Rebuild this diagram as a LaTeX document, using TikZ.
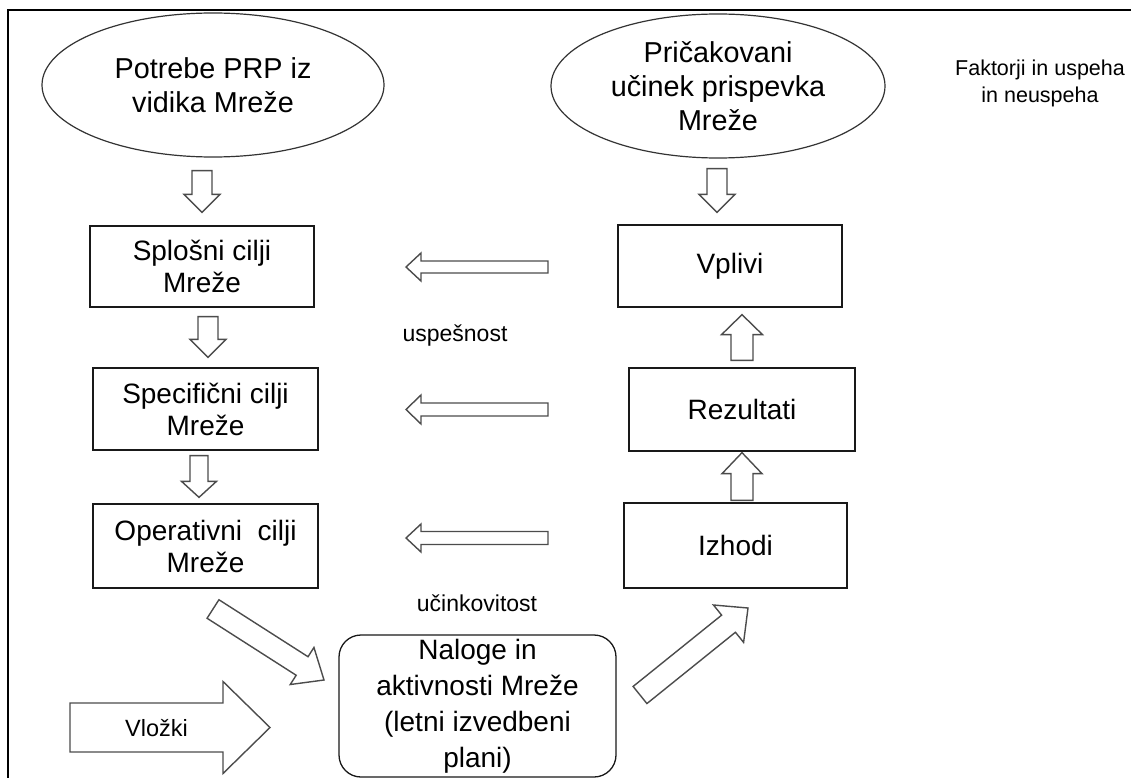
\documentclass[tikz,border=0pt]{standalone}
\usepackage{fontspec}
\setmainfont{Liberation Sans}
\usetikzlibrary{calc,shapes.geometric}
\newcommand{\blockarrow}[5]{%
  \path let \p1=(#1), \p2=(#2), \n1={atan2(\y2-\y1,\x2-\x1)}, \n2={veclen(\x2-\x1,\y2-\y1)} in
    \pgfextra{\xdef\baangle{\n1}\xdef\balen{\n2}};
  \begin{scope}[shift={(#1)}, rotate=\baangle]
    \draw[barrow] (0,-#3) -- ({\balen-#5},-#3) -- ({\balen-#5},-#4) -- ({\balen},0)
      -- ({\balen-#5},#4) -- ({\balen-#5},#3) -- (0,#3) -- cycle;
  \end{scope}}
\tikzset{
  frm/.style={line width=2pt},
  ell/.style={ellipse, draw=black!80, line width=1.2pt, inner sep=0pt, align=center,
    font=\fontsize{28.8}{34}\selectfont},
  bx/.style={rectangle, draw=black!90, line width=1.3pt, inner sep=0pt, align=center,
    font=\fontsize{28}{32}\selectfont},
  barrow/.style={draw=black!70, line width=1.4pt, fill=white, line join=miter},
  lbl/.style={inner sep=0pt, font=\fontsize{23}{27}\selectfont},
}
\begin{document}
\begin{tikzpicture}[x=1pt,y=-1pt]
\useasboundingbox (0,0) rectangle (1131,778);
\fill[white] (0,0) rectangle (1131,778);
\draw[frm] (8,778) -- (8,10) -- (1131,10);

% ellipses
\node[ell, minimum width=342, minimum height=144] (e1) at (213,85) {Potrebe PRP iz\\vidika Mreže};
\node[ell, minimum width=334, minimum height=144] (e2) at (718,86) {Pričakovani\\učinek prispevka\\Mreže};
\node[lbl, align=center, font=\fontsize{21.5}{27}\selectfont] (fak) at (1040,83) {Faktorji in uspeha\\in neuspeha};

% left column
\node[bx, minimum width=224, minimum height=81] (b1) at (202,266.5) {Splošni cilji\\Mreže};
\node[bx, minimum width=225, minimum height=82] (b2) at (205.5,409) {Specifični cilji\\Mreže};
\node[bx, minimum width=225, minimum height=84] (b3) at (205.5,546) {Operativni \ cilji\\Mreže};

% right column
\node[bx, minimum width=224, minimum height=82] (vp) at (730,266) {Vplivi};
\node[bx, minimum width=226, minimum height=83] (rez) at (742,409.5) {Rezultati};
\node[bx, minimum width=223, minimum height=85] (izh) at (735.5,545.5) {Izhodi};

% tasks box
\node[bx, rounded corners=22pt, minimum width=277, minimum height=142,
      font=\fontsize{28}{36}\selectfont] (nal) at (477.5,706)
      {Naloge in\\aktivnosti Mreže\\(letni izvedbeni\\plani)};

% labels
\node[lbl] (usp) at (455,336) {uspešnost};
\node[lbl] (uci) at (477,603) {učinkovitost};

% arrow end points
\coordinate (a1s) at ($(e1.south)+(-11,13)$);
\coordinate (a1e) at ($(b1.north)+(0,-13)$);
\coordinate (a2s) at ($(e2.south)+(-1,10)$);
\coordinate (a2e) at ($(vp.north)+(-13,-12)$);
\coordinate (a3s) at ($(b1.south)+(6,9)$);
\coordinate (a3e) at ($(b2.north)+(2.5,-10)$);
\coordinate (a4s) at ($(b2.south)+(-6.5,5)$);
\coordinate (a4e) at ($(b3.north)+(-6.5,-6)$);
\coordinate (a5s) at ($(rez.north)+(0,-7)$);
\coordinate (a5e) at ($(vp.south)+(12,7)$);
\coordinate (a6s) at ($(izh.north)+(6.5,-2)$);
\coordinate (a6e) at ($(rez.south)+(0,1)$);
\coordinate (h1s) at (548,267);
\coordinate (h1e) at (406,267);
\coordinate (h2s) at (548,409.5);
\coordinate (h2e) at (406,409.5);
\coordinate (h3s) at (548,538);
\coordinate (h3e) at (406,538);
\coordinate (d1s) at (213,609);
\coordinate (d1e) at (324,680);
\coordinate (d2s) at (640,695);
\coordinate (d2e) at (748,608);
\coordinate (vs) at (70,727.5);
\coordinate (ve) at (270,727.5);

\blockarrow{a1s}{a1e}{10}{18}{18}
\blockarrow{a2s}{a2e}{10}{18}{18}
\blockarrow{a3s}{a3e}{10}{18}{18}
\blockarrow{a4s}{a4e}{9}{17.5}{16}
\blockarrow{a5s}{a5e}{11}{20.5}{20}
\blockarrow{a6s}{a6e}{11}{20}{21}
\blockarrow{h1s}{h1e}{6}{14}{15}
\blockarrow{h2s}{h2e}{6.5}{14.5}{15}
\blockarrow{h3s}{h3e}{6.5}{14}{15}
\blockarrow{d1s}{d1e}{11}{22}{26}
\blockarrow{d2s}{d2e}{11}{24}{25}
\blockarrow{vs}{ve}{24.5}{46}{47}
\node[lbl, font=\fontsize{23.5}{27}\selectfont] (vlo) at (156.5,728) {Vložki};
\end{tikzpicture}
\end{document}
